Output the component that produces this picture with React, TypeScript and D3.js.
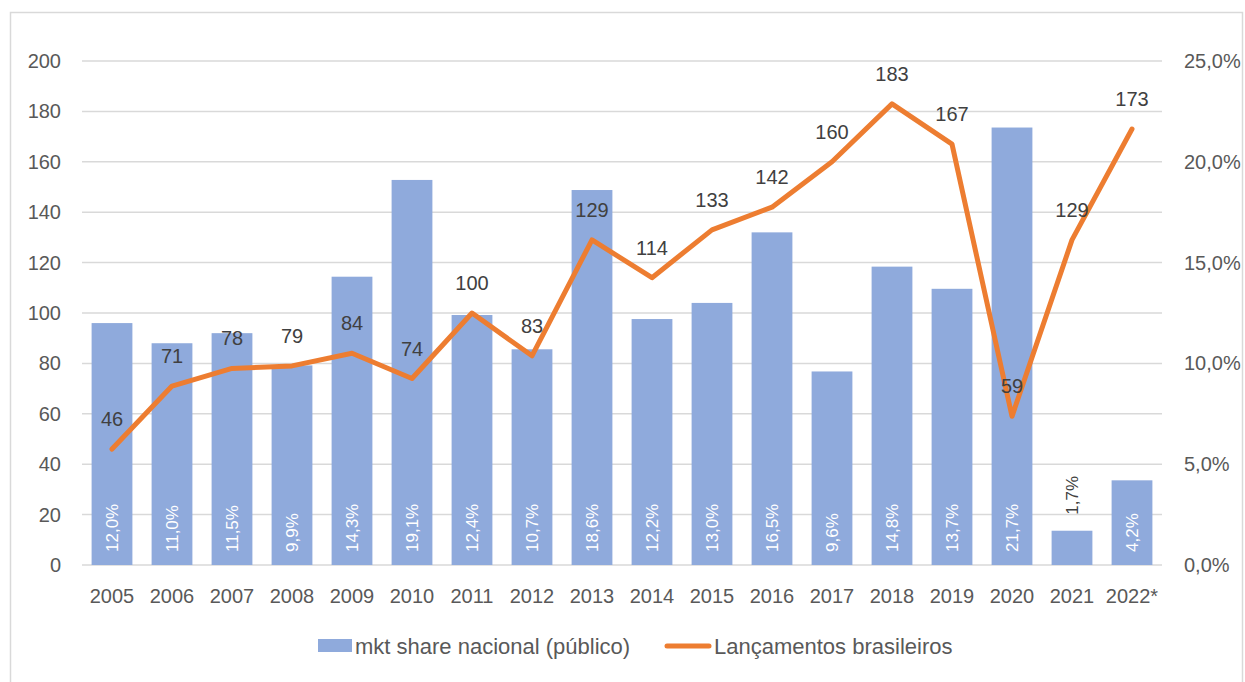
import { useEffect, useRef } from 'react';
import * as d3 from 'd3';

const years = ['2005', '2006', '2007', '2008', '2009', '2010', '2011', '2012', '2013', '2014', '2015', '2016', '2017', '2018', '2019', '2020', '2021', '2022*'];
// market share of Brazilian films (%), right axis
const marketShare = [12.0, 11.0, 11.5, 9.9, 14.3, 19.1, 12.4, 10.7, 18.6, 12.2, 13.0, 16.5, 9.6, 14.8, 13.7, 21.7, 1.7, 4.2];
// number of Brazilian releases, left axis
const launches = [46, 71, 78, 79, 84, 74, 100, 83, 129, 114, 133, 142, 160, 183, 167, 59, 129, 173];
const leftTicks = [0, 20, 40, 60, 80, 100, 120, 140, 160, 180, 200];
const rightTicks = [0, 5, 10, 15, 20, 25];

const BAR = '#8FAADC';
const LINE = '#ED7D31';
const GRID = '#D9D9D9';
const TEXT = '#595959';
const LABEL = '#404040';
const FONT = '"Liberation Sans", Arial, sans-serif';

const App = () => {
  const svgRef = useRef<SVGSVGElement>(null);

  useEffect(() => {
    const W = 1245;
    const H = 682;
    const svg = d3.select(svgRef.current);
    svg.selectAll('*').remove();
    svg.attr('width', W).attr('height', H);

    const left = 82, right = 1162, top = 61, bottom = 565;

    // chart frame
    svg.append('rect')
      .attr('x', 10.5).attr('y', 12.5)
      .attr('width', 1232).attr('height', 690)
      .attr('fill', 'white')
      .attr('stroke', GRID).attr('stroke-width', 1.5);

    const x = d3.scaleBand().domain(years).range([left, right]).paddingInner(0.32).paddingOuter(0.16);
    const y = d3.scaleLinear().domain([0, 200]).range([bottom, top]);
    const y2 = d3.scaleLinear().domain([0, 25]).range([bottom, top]);

    // gridlines
    svg.append('g').selectAll('line')
      .data(leftTicks)
      .enter().append('line')
      .attr('x1', left).attr('x2', right)
      .attr('y1', d => y(d)).attr('y2', d => y(d))
      .attr('stroke', GRID).attr('stroke-width', 1.5);

    // left axis labels
    svg.append('g').selectAll('text')
      .data(leftTicks)
      .enter().append('text')
      .attr('x', 61).attr('y', d => y(d))
      .attr('dy', '0.35em')
      .attr('text-anchor', 'end')
      .attr('fill', TEXT)
      .style('font', `20px ${FONT}`)
      .text(d => d);

    // right axis labels
    svg.append('g').selectAll('text')
      .data(rightTicks)
      .enter().append('text')
      .attr('x', 1184).attr('y', d => y2(d))
      .attr('dy', '0.35em')
      .attr('fill', TEXT)
      .style('font', `20px ${FONT}`)
      .text(d => d.toFixed(1).replace('.', ',') + '%');

    // x axis labels
    svg.append('g').selectAll('text')
      .data(years)
      .enter().append('text')
      .attr('x', d => x(d)! + x.bandwidth() / 2).attr('y', 596)
      .attr('dy', '0.35em')
      .attr('text-anchor', 'middle')
      .attr('fill', TEXT)
      .style('font', `20px ${FONT}`)
      .text(d => d);

    // bars
    svg.append('g').selectAll('rect')
      .data(marketShare)
      .enter().append('rect')
      .attr('x', (d, i) => x(years[i])!)
      .attr('y', d => y2(d))
      .attr('width', x.bandwidth())
      .attr('height', d => bottom - y2(d))
      .attr('fill', BAR);

    // bar labels (rotated)
    svg.append('g').selectAll('text')
      .data(marketShare)
      .enter().append('text')
      .attr('transform', (d, i) => {
        const cx = x(years[i])! + x.bandwidth() / 2;
        const small = bottom - y2(d) < 50;
        const yy = small ? y2(d) - 16 : bottom - 13;
        return `translate(${cx},${yy}) rotate(-90)`;
      })
      .attr('dy', '0.35em')
      .attr('fill', d => (bottom - y2(d) < 50 ? LABEL : 'white'))
      .style('font', `17px ${FONT}`)
      .text(d => d.toFixed(1).replace('.', ',') + '%');

    // line
    const line = d3.line<number>()
      .x((d, i) => x(years[i])! + x.bandwidth() / 2)
      .y(d => y(d));

    svg.append('path')
      .datum(launches)
      .attr('d', line)
      .attr('fill', 'none')
      .attr('stroke', LINE)
      .attr('stroke-width', 5)
      .attr('stroke-linejoin', 'round')
      .attr('stroke-linecap', 'round');

    // line labels
    svg.append('g').selectAll('text')
      .data(launches)
      .enter().append('text')
      .attr('x', (d, i) => x(years[i])! + x.bandwidth() / 2)
      .attr('y', d => y(d) - 30)
      .attr('dy', '0.35em')
      .attr('text-anchor', 'middle')
      .attr('fill', LABEL)
      .style('font', `20px ${FONT}`)
      .text(d => d);

    // legend
    const lg = svg.append('g');
    lg.append('rect')
      .attr('x', 318).attr('y', 639)
      .attr('width', 34).attr('height', 13)
      .attr('fill', BAR);
    lg.append('text')
      .attr('x', 355).attr('y', 646)
      .attr('dy', '0.35em')
      .attr('fill', TEXT)
      .style('font', `22px ${FONT}`)
      .text('mkt share nacional (público)');
    lg.append('line')
      .attr('x1', 667).attr('x2', 709)
      .attr('y1', 646).attr('y2', 646)
      .attr('stroke', LINE).attr('stroke-width', 5)
      .attr('stroke-linecap', 'round');
    lg.append('text')
      .attr('x', 714).attr('y', 646)
      .attr('dy', '0.35em')
      .attr('fill', TEXT)
      .style('font', `22px ${FONT}`)
      .text('Lançamentos brasileiros');
  }, []);

  return (
    <div style={{ position: 'absolute', left: 0, top: 0 }}>
      <svg ref={svgRef} style={{ display: 'block' }}></svg>
    </div>
  );
};

export default App;
